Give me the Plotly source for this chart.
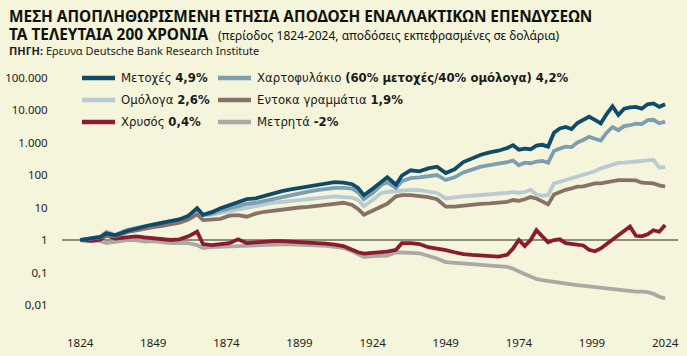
import plotly.graph_objects as go

years = [1824, 1828, 1831, 1833, 1836, 1840, 1843, 1846, 1849, 1852, 1855, 1858, 1861, 1864, 1866,
         1869, 1872, 1875, 1878, 1881, 1884, 1887, 1890, 1893, 1896, 1899, 1902, 1905, 1908, 1911,
         1914, 1917, 1919, 1921, 1924, 1927, 1929, 1932, 1934, 1937, 1940, 1943, 1946, 1949, 1952,
         1955, 1958, 1961, 1964, 1967, 1970, 1972, 1974, 1976, 1978, 1980, 1982, 1984, 1986, 1988,
         1990, 1992, 1994, 1996, 1998, 2000, 2002, 2004, 2006, 2008, 2010, 2012, 2014, 2016, 2018,
         2020, 2022, 2024]

stocks = [1.0, 1.15, 1.25, 1.6, 1.4, 1.9, 2.3, 2.6, 3.0, 3.4, 3.8, 4.3, 5.5, 9.5, 6.0,
          7.2, 9.5, 12, 15, 18, 19, 23, 27, 32, 36, 40, 45, 50, 55, 60,
          58, 52, 40, 24, 38, 60, 85, 50, 95, 140, 130, 160, 180, 115, 150,
          250, 330, 420, 500, 560, 680, 830, 600, 650, 620, 800, 850, 750, 2000, 2700,
          3000, 2600, 4000, 4800, 6200, 5000, 3900, 7500, 13000, 7000, 11000, 12000, 12500, 11000, 15000,
          16000, 12500, 15000]

portfolio = [1.0, 1.15, 1.25, 1.7, 1.4, 2.0, 2.3, 2.7, 3.1, 3.4, 3.8, 4.3, 5.5, 9.0, 5.8,
             6.5, 8.0, 9.5, 11, 13, 14, 16, 19, 22, 25, 28, 31, 34, 37, 40,
             40, 38, 30, 18, 28, 50, 60, 40, 65, 80, 85, 95, 100, 70, 85,
             120, 150, 180, 200, 220, 250, 280, 200, 240, 230, 260, 270, 240, 550, 650,
             750, 720, 1000, 1200, 1500, 1300, 1150, 2000, 3000, 2400, 3200, 3400, 3800, 3700, 4900,
             5000, 3900, 4400]

bonds = [1.0, 1.2, 1.3, 1.8, 1.45, 2.1, 2.4, 2.8, 3.2, 3.5, 3.9, 4.4, 5.6, 9.0, 5.9,
         6.0, 6.8, 7.5, 8.5, 9.5, 11, 12, 14, 15, 16, 17, 19, 20, 21, 22,
         21, 20, 17, 11, 17, 28, 30, 32, 35, 35, 34, 31, 28, 19, 21,
         22, 23, 24, 25, 26, 28, 30, 28, 30, 35, 25, 23, 24, 55, 62,
         70, 80, 88, 100, 115, 130, 160, 180, 210, 235, 240, 255, 260, 270, 280,
         290, 170, 175]

bills = [1.0, 1.1, 1.2, 1.35, 1.3, 1.75, 2.0, 2.3, 2.5, 2.7, 3.0, 3.4, 4.3, 6.2, 4.1,
         4.3, 4.5, 5.6, 5.8, 5.2, 6.5, 7.4, 8.0, 9.0, 9.5, 10, 10.5, 11, 12, 13,
         14, 12, 9, 6, 8, 11, 13, 22, 24, 24, 23, 21, 18, 10.6, 10.6,
         11.5, 12, 13, 13.5, 14, 15, 17, 16, 18, 21, 19, 15, 12.5, 25, 30,
         35, 39, 44, 45, 50, 55, 55, 60, 65, 70, 70, 70, 68, 58, 55,
         55, 48, 44]

gold = [1.0, 0.95, 1.05, 1.4, 1.1, 1.2, 1.3, 1.2, 1.15, 1.1, 1.0, 1.05, 1.3, 1.8, 0.75,
        0.7, 0.75, 0.8, 1.05, 0.8, 0.85, 0.9, 0.92, 0.93, 0.9, 0.88, 0.82, 0.8, 0.78, 0.72,
        0.65, 0.5, 0.42, 0.38, 0.4, 0.42, 0.44, 0.5, 0.8, 0.8, 0.75, 0.6, 0.55, 0.49, 0.42,
        0.37, 0.35, 0.34, 0.33, 0.31, 0.35, 0.55, 1.0, 0.65, 1.0, 2.0, 1.3, 0.85, 1.0, 1.05,
        0.8, 0.75, 0.72, 0.68, 0.5, 0.45, 0.55, 0.75, 1.0, 1.4, 2.0, 2.6, 1.35, 1.3, 1.5,
        2.0, 1.8, 2.9]

cash = [1.0, 0.95, 0.92, 0.8, 0.9, 1.0, 1.0, 0.9, 0.92, 0.88, 0.8, 0.82, 0.8, 0.7, 0.57,
        0.6, 0.62, 0.62, 0.65, 0.68, 0.7, 0.72, 0.73, 0.74, 0.73, 0.72, 0.7, 0.68, 0.66, 0.62,
        0.57, 0.45, 0.38, 0.3, 0.32, 0.33, 0.33, 0.42, 0.42, 0.4, 0.39, 0.33, 0.27, 0.21, 0.2,
        0.19, 0.185, 0.18, 0.175, 0.165, 0.15, 0.13, 0.105, 0.09, 0.075, 0.063, 0.058, 0.054, 0.051, 0.048,
        0.045, 0.043, 0.041, 0.039, 0.037, 0.036, 0.034, 0.032, 0.030, 0.029, 0.028, 0.027, 0.026, 0.026, 0.025,
        0.022, 0.018, 0.016]

series_names = ["Μετοχές <b>4,9%</b>",
                "Χαρτοφυλάκιο <b>(60% μετοχές/40% ομόλογα) 4,2%</b>",
                "Ομόλογα <b>2,6%</b>",
                "Εντοκα γραμμάτια <b>1,9%</b>",
                "Χρυσός <b>0,4%</b>",
                "Μετρητά <b>-2%</b>"]

x_ticks = [1824, 1849, 1874, 1899, 1924, 1949, 1974, 1999, 2024]
y_ticks = [0.01, 0.1, 1, 10, 100, 1000, 10000, 100000]
y_tick_labels = ["0,01", "0,1", "1", "10", "100", "1.000", "10.000", "100.000"]

title1 = "ΜΕΣΗ ΑΠΟΠΛΗΘΩΡΙΣΜΕΝΗ ΕΤΗΣΙΑ ΑΠΟΔΟΣΗ ΕΝΑΛΛΑΚΤΙΚΩΝ ΕΠΕΝΔΥΣΕΩΝ"
title2a = "ΤΑ ΤΕΛΕΥΤΑΙΑ 200 ΧΡΟΝΙΑ"
title2b = "(περίοδος 1824-2024, αποδόσεις εκπεφρασμένες σε δολάρια)"
source = "<b>ΠΗΓΗ:</b> Ερευνα Deutsche Bank Research Institute"

colors = {
    "stocks": "#0f4b69",
    "portfolio": "#7d9db1",
    "bonds": "#b9cad2",
    "bills": "#8a7168",
    "gold": "#8d1b2e",
    "cash": "#aaa9a6",
}

W, H = 687, 356
L, R, T, B = 62, 678, 65, 325
BG = "#f4f5da"
FONT = "Noto Sans"
LFONT = "DejaVu Sans"


def px(xp):
    return (xp - L) / (R - L)


def py(yp):
    return (B - yp) / (B - T)


fig = go.Figure()
draw = [("cash", cash), ("gold", gold), ("bills", bills), ("bonds", bonds),
        ("portfolio", portfolio), ("stocks", stocks)]
for key, vals in draw:
    fig.add_trace(go.Scatter(x=years, y=vals, mode="lines",
                             line=dict(color=colors[key], width=3.8),
                             showlegend=False, hoverinfo="skip"))

shapes = [dict(type="line", xref="paper", yref="y", x0=0, x1=1, y0=1, y1=1,
               line=dict(color="#6d6d58", width=1.5), layer="below")]

legend_items = [
    (series_names[0], colors["stocks"], 82, 78),
    (series_names[1], colors["portfolio"], 218, 78),
    (series_names[2], colors["bonds"], 82, 100),
    (series_names[3], colors["bills"], 218, 100),
    (series_names[4], colors["gold"], 82, 122),
    (series_names[5], colors["cash"], 218, 122),
]
annotations = []
for name, col, x0, yy in legend_items:
    shapes.append(dict(type="line", xref="paper", yref="paper",
                       x0=px(x0), x1=px(x0 + 33), y0=py(yy), y1=py(yy),
                       line=dict(color=col, width=4.5)))
    annotations.append(dict(text=name, xref="paper", yref="paper",
                            x=px(x0 + 37), y=py(yy), xanchor="left", yanchor="middle",
                            showarrow=False, font=dict(family=LFONT, size=11.7, color="#1a1a1a")))

annotations += [
    dict(text="<b>" + title1 + "</b>", xref="paper", yref="paper", x=px(7), y=py(16),
         xanchor="left", yanchor="middle", showarrow=False,
         font=dict(family=FONT, size=15.4, color="#111111")),
    dict(text="<b>" + title2a + "</b>", xref="paper", yref="paper", x=px(7), y=py(35),
         xanchor="left", yanchor="middle", showarrow=False,
         font=dict(family=FONT, size=15.4, color="#111111")),
    dict(text=title2b, xref="paper", yref="paper", x=px(216), y=py(36),
         xanchor="left", yanchor="middle", showarrow=False,
         font=dict(family=FONT, size=12, color="#111111")),
    dict(text=source, xref="paper", yref="paper", x=px(7), y=py(51),
         xanchor="left", yanchor="middle", showarrow=False,
         font=dict(family=FONT, size=11, color="#222222")),
]

fig.update_layout(
    template="none",
    width=W, height=H,
    margin=dict(l=L, r=W - R, t=T, b=H - B, pad=0),
    paper_bgcolor=BG, plot_bgcolor=BG,
    showlegend=False,
    hovermode=False,
    shapes=shapes,
    annotations=annotations,
    font=dict(family=FONT, color="#222222"),
)
fig.update_xaxes(range=[1817.8, 2028.4], tickvals=x_ticks, showgrid=False, zeroline=False,
                 showline=False, ticks="outside", ticklen=7, tickcolor=BG, automargin=False,
                 tickfont=dict(family=FONT, size=11.5, color="#222222"))
fig.update_yaxes(type="log", range=[-2.615, 5.385], tickvals=y_ticks, ticktext=y_tick_labels,
                 showgrid=False, zeroline=False, showline=False, ticks="outside", ticklen=11,
                 tickcolor=BG, automargin=False,
                 tickfont=dict(family=FONT, size=11.5, color="#222222"))

fig.write_html("out.html",
               config={"displayModeBar": False, "staticPlot": True},
               post_script="document.body.style.margin='0';document.body.style.padding='0';"
                           "document.body.style.overflow='hidden';"
                           "document.body.style.background='" + BG + "';")
